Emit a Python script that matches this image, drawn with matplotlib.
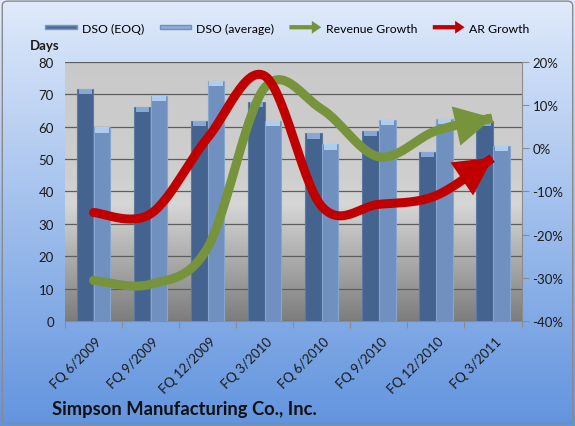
import numpy as np
import matplotlib
matplotlib.use('Agg')
import matplotlib.pyplot as plt
import matplotlib.patches as mpatches
import matplotlib.transforms as mtransforms
from matplotlib.path import Path
from matplotlib.legend_handler import HandlerPatch
from matplotlib.ticker import FuncFormatter, MultipleLocator

categories = ["FQ 6/2009", "FQ 9/2009", "FQ 12/2009", "FQ 3/2010",
              "FQ 6/2010", "FQ 9/2010", "FQ 12/2010", "FQ 3/2011"]
dso_eoq = [71.5, 66.1, 61.7, 67.7, 57.9, 58.7, 52.2, 61.8]
dso_avg = [59.7, 69.5, 74.1, 61.7, 54.5, 62.0, 62.3, 53.9]
revenue_growth = [-0.306, -0.315, -0.23, 0.14, 0.09, -0.02, 0.04, 0.07]
ar_growth = [-0.149, -0.152, 0.024, 0.167, -0.135, -0.13, -0.11, -0.022]

plt.rcParams['font.family'] = ['Lato', 'DejaVu Sans']

W, H = 575, 427
fig = plt.figure(figsize=(W / 100, H / 100), dpi=100)

# figure background gradient
bg = fig.add_axes([0, 0, 1, 1], zorder=-10)
top = np.array([224, 234, 251]) / 255
bot = np.array([98, 148, 222]) / 255
t = np.linspace(0, 1, 256)[:, None]
grad = top[None, :] * (1 - t) + bot[None, :] * t
bg.imshow(grad[:, None, :], aspect='auto', extent=[0, 1, 0, 1], origin='upper')
bg.set_xlim(0, 1); bg.set_ylim(0, 1)
bg.axis('off')
bg.add_patch(mpatches.FancyBboxPatch((0.004, 0.005), 0.992, 0.99,
             boxstyle='round,pad=0,rounding_size=0.01', fill=False,
             edgecolor='#8a8a8a', lw=1.0, transform=bg.transAxes))

rect = [65 / W, 1 - 322 / H, (521.5 - 65) / W, (322 - 62.7) / H]

# plot area gradient
pbg = fig.add_axes(rect, zorder=-5)
ys = np.linspace(0, 1, 256)  # 0 bottom .. 1 top
stops_y = [0.0, 0.45, 0.55, 1.0]
stops_v = [0.49, 0.84, 0.81, 0.79]
vals = np.interp(ys, stops_y, stops_v)[::-1]
pbg.imshow(np.repeat(vals[:, None, None], 3, axis=2), aspect='auto',
           extent=[0, 1, 0, 1], origin='upper')
pbg.set_xlim(0, 1); pbg.set_ylim(0, 1)
pbg.axis('off')

ax = fig.add_axes(rect)
ax.set_facecolor('none')
x = np.arange(len(categories))
bw = 0.29
off = 0.147
ax.bar(x - off, dso_eoq, bw, color='#44648f', edgecolor='#5b7aa3', lw=0.8, zorder=3)
ax.bar(x + off, dso_avg, bw, color='#7091bf', edgecolor='#86a5cf', lw=0.8, zorder=3)
# glossy caps
cap = 1.6
ax.bar(x - off, [cap] * len(x), bw * 0.8, bottom=np.array(dso_eoq) - cap,
       color='#8fb0dc', lw=0, zorder=4, alpha=0.9)
ax.bar(x + off, [cap] * len(x), bw * 0.8, bottom=np.array(dso_avg) - cap,
       color='#b5d3f3', lw=0, zorder=4, alpha=0.9)

ax.set_xlim(-0.5, len(categories) - 0.5)
ax.set_ylim(0, 80)
ax.yaxis.set_major_locator(MultipleLocator(10))
ax.yaxis.grid(True, color='#5e5e5e', lw=0.9, zorder=1)
ax.set_axisbelow(True)
for s in ['top', 'right', 'left']:
    ax.spines[s].set_visible(False)
ax.spines['bottom'].set_color('#8c8c8c')
ax.tick_params(axis='y', length=0, labelsize=9.5, labelcolor='#1a1a1a', pad=8)

ax.set_xticks(np.arange(len(categories) + 1) - 0.5)
ax.set_xticklabels([])
ax.tick_params(axis='x', which='major', length=5, color='#8c8c8c', direction='out')
ax.set_xticks(x, minor=True)
ax.set_xticklabels(categories, minor=True, rotation=45, ha='right', va='center',
                   rotation_mode='anchor', fontsize=9.5, color='#1a1a1a')
ax.tick_params(axis='x', which='minor', length=0, pad=13)
shift = mtransforms.ScaledTranslation(6 / 100, 0, fig.dpi_scale_trans)
for lab in ax.get_xticklabels(minor=True):
    lab.set_transform(lab.get_transform() + shift)

ax2 = ax.twinx()
ax2.set_ylim(-0.4, 0.2)
ax2.yaxis.set_major_locator(MultipleLocator(0.1))
ax2.yaxis.set_major_formatter(FuncFormatter(lambda v, p: f"{v * 100:.0f}%"))
for s in ['top', 'left', 'bottom']:
    ax2.spines[s].set_visible(False)
ax2.spines['right'].set_color('#8c8c8c')
ax2.tick_params(axis='y', length=5, color='#8c8c8c', labelsize=9.5,
                labelcolor='#1a1a1a', direction='out', pad=3)


def smooth(xv, yv, sx=57.0, sy=432.0, n=30):
    P = np.column_stack([np.asarray(xv, float) * sx, np.asarray(yv, float) * sy])
    pts = [P[0]]
    m = len(P)
    for i in range(m - 1):
        p0 = P[i - 1] if i > 0 else P[i]
        p1 = P[i]
        p2 = P[i + 1]
        p3 = P[i + 2] if i + 2 < m else P[i + 1]
        c1 = p1 + (p2 - p0) / 6
        c2 = p2 - (p3 - p1) / 6
        tt = np.linspace(0, 1, n)[1:, None]
        seg = ((1 - tt) ** 3) * p1 + 3 * ((1 - tt) ** 2) * tt * c1 + \
              3 * (1 - tt) * tt ** 2 * c2 + tt ** 3 * p2
        pts.extend(seg)
    pts = np.array(pts)
    pts[:, 0] /= sx
    pts[:, 1] /= sy
    return pts


def arrow_line(axis, yv, color):
    pts = smooth(x, yv)
    arr = mpatches.FancyArrowPatch(
        path=Path(pts), arrowstyle='-|>,head_length=17,head_width=9',
        mutation_scale=1, color=color, lw=6.5, capstyle='round',
        joinstyle='miter', transform=axis.transData, zorder=5)
    axis.add_patch(arr)


green = '#77933c'
red = '#c00000'
arrow_line(ax2, revenue_growth, green)
arrow_line(ax2, ar_growth, red)

fig.text(30 / W, 1 - 46 / H, 'Days', fontsize=9.5, fontweight='bold',
         color='#1a1a1a', ha='left', va='center')
fig.text(52 / W, 1 - 410 / H, 'Simpson Manufacturing Co., Inc.', fontsize=13.2,
         fontweight='bold', color='#111111', ha='left', va='center')


def make_arrow(legend, orig_handle, xdescent, ydescent, width, height, fontsize):
    return mpatches.FancyArrow(-xdescent, height / 2 - ydescent, width, 0,
                               width=height * 0.5, head_width=height * 1.5,
                               head_length=height * 1.1, length_includes_head=True,
                               color=orig_handle.get_facecolor(), lw=0)


def make_bar(legend, orig_handle, xdescent, ydescent, width, height, fontsize):
    return mpatches.Rectangle((-xdescent, height * 0.28 - ydescent), width, height * 0.44,
                              facecolor=orig_handle.get_facecolor(),
                              edgecolor=orig_handle.get_edgecolor(), lw=0.8)


h1 = mpatches.Patch(facecolor='#4d6d98', edgecolor='#7c98bf')
h2 = mpatches.Patch(facecolor='#8eaed8', edgecolor='#6f8fbd')
h3 = mpatches.Patch(facecolor=green)
h4 = mpatches.Patch(facecolor=red)
fig.legend([h1, h2, h3, h4], ['DSO (EOQ)', 'DSO (average)', 'Revenue Growth', 'AR Growth'],
           loc='center', bbox_to_anchor=(0.5, 1 - 29 / H), ncol=4, frameon=False,
           fontsize=8.8, handlelength=2.6, handletextpad=0.4, columnspacing=1.25,
           handler_map={h1: HandlerPatch(patch_func=make_bar),
                        h2: HandlerPatch(patch_func=make_bar),
                        h3: HandlerPatch(patch_func=make_arrow),
                        h4: HandlerPatch(patch_func=make_arrow)})

fig.savefig('out.png', dpi=100)
